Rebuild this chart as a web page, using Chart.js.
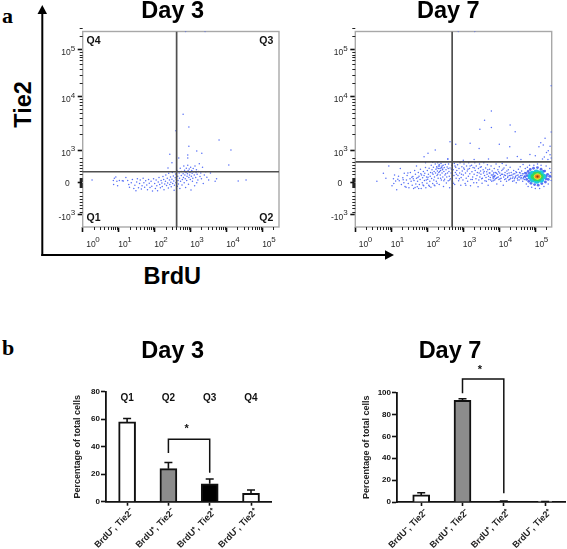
<!DOCTYPE html>
<html><head><meta charset="utf-8">
<script src="https://cdn.jsdelivr.net/npm/chart.js@4"></script>
<style>
html,body{margin:0;padding:0;background:#fff;overflow:hidden;width:567px;height:549px}
canvas{position:absolute;display:block}
svg{position:absolute;left:0;top:0}
</style></head><body>
<svg width="567" height="549" id="ov">
 <line x1="42.3" y1="256" x2="42.3" y2="12" stroke="#000" stroke-width="2"/>
 <polygon points="42.3,5 37.5,14 47,14" fill="#000"/>
 <line x1="41.3" y1="255" x2="387" y2="255" stroke="#000" stroke-width="2"/>
 <polygon points="394,255 385,250.3 385,259.7" fill="#000"/>
 <text x="2" y="23" font-family="Liberation Serif" font-weight="bold" font-size="22">a</text>
 <text x="2" y="355" font-family="Liberation Serif" font-weight="bold" font-size="22">b</text>
 <text transform="translate(30.5,104.5) rotate(-90)" text-anchor="middle" font-family="Liberation Sans" font-weight="bold" font-size="23.5">Tie2</text>
 <text x="172.3" y="283.5" text-anchor="middle" font-family="Liberation Sans" font-weight="bold" font-size="23.5">BrdU</text>
</svg>
<canvas id="c1" style="left:55px;top:0" width="235" height="262"></canvas>
<canvas id="c2" style="left:328px;top:0" width="241" height="262"></canvas>
<canvas id="c3" style="left:50px;top:338px" width="245" height="211"></canvas>
<canvas id="c4" style="left:334px;top:338px" width="232" height="211"></canvas>
<script>
// Flow plots: x = decades of BrdU, y = display position on the biexponential Tie2 axis
const xTickExponents = ['0','1','2','3','4','5'];
const xTickValues = [0,1,2,3,4,5];
const yTickValues = [-1,0,1,2.66,4.125];
const yTickLabels = ['-10|3','0','10|3','10|4','10|5'];
const yMinorBiex = [.75,.625,.53,.44,.34,.25,.125,.09,.06,.03,-.03,-.06,-.09,-.125,-.15,-.31,-.44,-.53,-.625,-.72,-.81,-.94];
const day3Gate = {x:2.61, y:.32};
const day7Gate = {x:2.69, y:.63};
const quadrantNames = ['Q1','Q2','Q3','Q4'];

const day3Cells = [
[.26,.06],[.85,.05],[.86,-.08],[.88,.12],[.92,.16],[.95,.02],[.97,-.12],[1.02,.05],[1.1,.04],[1.13,.03],
[1.2,.14],[1.25,.05],[1.28,-.08],[1.3,-.16],[1.35,-.02],[1.38,.08],[1.42,-.2],[1.45,-.1],[1.48,-.27],[1.5,.0],
[1.52,.1],[1.55,-.18],[1.58,-.05],[1.6,.06],[1.63,-.22],[1.65,-.12],[1.68,.12],[1.7,-.02],[1.72,-.16],[1.75,.04],
[1.78,-.09],[1.8,-.24],[1.83,.08],[1.85,-.04],[1.87,-.17],[1.9,.02],[1.92,-.13],[1.94,-.28],[1.97,.1],[2.0,-.05],
[2.02,-.2],[2.04,.06],[2.06,-.12],[2.08,-.27],[2.1,.0],[2.12,.14],[2.14,-.08],[2.16,-.18],[2.18,.05],[2.2,-.03],
[2.21,-.14],[2.23,.17],[2.25,.08],[2.26,-.24],[2.28,-.06],[2.3,.02],[2.31,.22],[2.33,-.11],[2.35,.12],[2.36,-.03],
[2.38,-.19],[2.39,.27],[2.41,.06],[2.42,-.08],[2.44,.16],[2.45,-.01],[2.46,-.15],[2.48,.09],[2.49,.3],[2.5,-.05],
[2.52,.19],[2.53,.03],[2.54,-.26],[2.55,-.1],[2.57,.13],[2.58,.25],[2.59,-.02],[2.6,.08],[2.62,.36],[2.63,-.13],
[2.64,.18],[2.65,.05],[2.66,-.06],[2.68,.28],[2.69,.12],[2.7,-.2],[2.71,.43],[2.72,.02],[2.74,.2],[2.75,.33],
[2.76,-.09],[2.77,.08],[2.79,.26],[2.8,.14],[2.81,.5],[2.82,-.02],[2.83,.37],[2.84,.22],[2.85,.1],[2.86,-.17],
[2.87,.3],[2.88,.43],[2.89,.05],[2.9,.18],[2.91,.26],[2.92,.52],[2.93,.35],[2.94,-.07],[2.95,.14],[2.96,.41],
[2.97,.22],[2.98,.3],[2.99,.08],[3.0,.46],[3.01,-.25],[3.02,.18],[3.03,.36],[3.04,.27],[3.05,.02],[3.06,.12],
[3.07,.42],[3.08,.32],[3.1,.22],[3.11,-.12],[3.12,.5],[3.14,.14],[3.15,.3],[3.16,.38],[3.17,-.02],[3.18,.24],
[3.2,.06],[3.22,.33],[3.24,.57],[3.26,.17],[3.28,.28],[3.3,.1],[3.33,.46],[3.35,-.05],[3.38,.22],[3.42,.32],
[3.45,.15],[3.5,.06],[3.55,.28],[3.68,.02],[3.72,.1],
[2.42,.87],[2.48,.6],[2.37,.44],[2.67,.75],[2.79,2.12],[2.59,1.6],[2.95,1.72],[3.79,1.31],[4.12,1.0],[4.06,.53],
[4.32,.03],[4.54,.06],[2.95,1.12],[2.92,.84],[3.17,.97],[3.31,.9],[2.92,.75],[2.86,4.7],[3.4,4.7]
];

const day7Cells = [
[.6,.02],[.78,.27],[.93,.5],[.85,.12],[1.02,-.12],[1.06,.1],[1.12,.03],[1.15,-.24],[1.2,.18],[1.22,.04],
[1.28,-.08],[1.32,.13],[1.35,-.02],[1.36,.27],[1.38,-.14],[1.42,.06],[1.44,.2],[1.47,-.05],[1.49,-.18],[1.52,.1],
[1.53,.3],[1.55,.02],[1.58,-.1],[1.6,.17],[1.62,-.2],[1.63,.05],[1.65,.36],[1.67,.24],[1.68,-.06],[1.7,.12],
[1.72,-.15],[1.73,.02],[1.75,.3],[1.77,.18],[1.78,-.08],[1.8,.08],[1.81,.4],[1.83,-.2],[1.84,.22],[1.86,-.02],
[1.87,.13],[1.89,.33],[1.9,-.12],[1.92,.05],[1.93,.27],[1.95,.45],[1.96,-.18],[1.98,.16],[1.99,-.04],[2.0,.36],
[2.01,.09],[2.03,.24],[2.04,-.1],[2.05,.43],[2.07,.02],[2.08,.18],[2.09,.3],[2.1,-.16],[2.11,.52],[2.12,.11],
[2.13,.38],[2.15,-.05],[2.16,.24],[2.17,.46],[2.18,.06],[2.19,.33],[2.2,.16],[2.21,-.12],[2.22,.56],[2.23,.28],
[2.24,.4],[2.25,.02],[2.26,.48],[2.27,.2],[2.28,.34],[2.29,.6],[2.3,.12],[2.31,.42],[2.32,.3],[2.33,-.08],
[2.34,.5],[2.35,.42],[2.36,.22],[2.37,.36],[2.38,.58],[2.39,.06],[2.4,.46],[2.41,.28],[2.42,.38],[2.43,.16],
[2.44,.52],[2.45,-.14],[2.46,.33],[2.47,.45],[2.48,.09],[2.49,.22],[2.5,.55],[2.52,.38],[2.53,-.03],[2.54,.16],
[2.55,.47],[2.56,.28],[2.57,.72],[2.58,.04],[2.59,.56],[2.6,.33],[2.61,.18],[2.62,-.18],[2.63,.44],[2.64,.1],
[2.66,.28],[2.68,.52],[2.7,.02],[2.72,.38],[2.74,.2],[2.75,.58],[2.76,-.08],[2.78,.3],[2.79,.46],[2.8,.12],
[2.82,.36],[2.84,.54],[2.85,.2],[2.87,.04],[2.88,.42],[2.9,.28],[2.91,.6],[2.93,-.1],[2.94,.14],[2.96,.48],
[2.97,.34],[2.99,.06],[3.0,.22],[3.02,.56],[3.03,.4],[3.05,-.05],[3.06,.28],[3.08,.12],[3.09,.5],[3.11,.34],
[3.12,.02],[3.14,.18],[3.15,.6],[3.17,.42],[3.18,.26],[3.2,-.12],[3.21,.08],[3.23,.52],[3.24,.32],[3.26,.16],
[3.27,.45],[3.29,-.02],[3.3,.24],[3.32,.6],[3.33,.36],[3.35,.1],[3.36,.5],[3.38,.2],[3.39,.3],[3.41,-.15],
[3.42,.42],[3.43,.06],[3.45,.56],[3.46,.16],[3.48,.34],[3.49,.24],[3.5,.48],[3.52,-.04],[3.53,.12],[3.55,.38],
[3.56,.28],[3.57,.6],[3.59,.2],[3.6,.04],[3.62,.44],[3.63,.14],[3.65,.32],[3.66,.24],[3.67,.54],[3.69,-.1],
[3.7,.18],[3.71,.08],[3.73,.4],[3.74,.28],[3.75,.14],[3.77,.5],[3.78,.22],[3.79,.02],[3.8,.34],[3.82,.16],
[3.83,.1],[3.84,.25],[3.85,.15],[3.86,.42],[3.87,.06],[3.88,.2],[3.9,.3],[3.91,.56],[3.92,.12],[3.93,-.06],
[3.95,.24],[3.96,.38],[3.97,.16],[3.99,.08],[4.0,.48],[4.01,.28],[4.03,.2],[4.04,.02],[4.05,.12],[4.07,.36],
[4.08,.58],[4.09,.24],[4.11,-.1],[4.12,.16],[4.13,.44],[4.15,.08],[4.16,.3],[4.17,.2],[4.19,.52],[4.2,.02],
[4.22,.26],[4.23,.14],[4.25,.38],[4.26,.06],[4.28,.2],[4.3,.46],[4.31,.12],[4.33,.3],[4.35,.22],[4.37,.02],
[4.38,.16],[4.4,.36],[4.42,.1],[4.43,.26],[4.45,.18],[4.47,-.02],[4.48,.3],[4.5,.12],[4.52,.22],[4.53,.4],
[4.55,.06],[4.57,.16],[4.58,.28],[4.6,.1],[4.62,.34],[4.63,.2],[4.65,.02],[4.67,.14],[4.68,.26],[4.7,.08],
[3.78,2.22],[3.59,1.93],[3.46,1.65],[3.78,1.7],[4.3,1.78],[4.44,1.57],[5.44,3.01],[5.44,1.56],[5.27,1.37],[5.15,1.23],
[5.22,1.16],[4.0,1.18],[4.29,1.1],[3.44,1.05],[3.19,1.21],[2.79,1.18],[2.63,1.26],[2.22,1.0],[2.02,.9],[1.91,.79],
[2.57,.72],[2.86,4.7],[3.32,4.7],[5.1,1.1],[5.31,.92],[5.36,.98],[5.41,.85],[5.44,.75],[5.25,.78],[5.0,.82],
[4.85,.86],[4.6,.7],[4.5,.8],[4.22,.75],[3.7,.72],[3.3,.7],[3.0,.68],[5.2,.72],[5.35,.7],[5.41,1.12],
[1.95,.6],[2.15,.62],[1.7,.5],[1.25,.42]
];
const day7MoreCells = [
[1.07,-.05],[1.18,.09],[1.09,.22],[1.41,-.16],[1.33,.07],[1.57,.15],[1.46,.28],[1.66,-.17],[1.61,.1],[1.76,-.2],
[1.74,.14],[1.88,-.09],[1.82,.26],[1.97,.06],[2.06,-.13],[1.91,.2],[2.14,.28],[2.02,.15],[2.27,-.04],[2.19,-.09],
[2.33,.55],[2.29,.24],[2.41,.5],[2.37,.12],[2.46,.04],[2.34,.33],[2.38,.44],[2.31,.5],[2.43,.41],[2.27,.44],
[2.51,.26],[2.58,.42],[2.62,.06],[2.67,.4],[2.73,-.04],[2.77,.5],[2.81,.24],[2.89,.1],[2.95,.24],[3.01,.44],
[3.07,-.1],[3.13,.4],[3.19,.5],[3.25,.08],[3.31,.44],[3.37,-.02],[3.44,.28],[3.47,.46],[3.51,.1],[3.58,.33],
[3.64,.02],[3.68,.38],[3.72,.28],[3.76,.06],[3.81,.22],[3.83,.04],[3.85,.3],[3.87,.18],[3.89,.1],[3.84,.18],
[3.92,.27],[3.94,.14],[3.98,.32],[4.02,.1],[4.06,.24],[4.1,.4],[4.14,.22],[4.18,.1],[4.21,.34],[4.24,.18],
[4.27,.28],[4.29,.08],[4.32,.2],[4.36,.12],[4.39,.25],[4.41,.04],[4.44,.14],[4.46,.32],[4.49,.2],[4.51,.06],
[4.54,.16],[4.56,.3],[4.59,.2],[4.61,.14],[4.64,.26],[4.66,.1],[4.69,.18],[4.71,.3],[4.58,.48],[4.66,.55],
[4.72,.42],[4.75,-.06],[4.78,.46],[4.8,-.14],[4.84,.52],[4.9,-.16],[4.96,.52],[5.0,-.2],[5.06,.56],[5.12,-.2],
[5.16,.52],[5.24,-.14],[5.3,.5],[5.36,-.06],[5.4,.42],[5.43,.3],[5.44,.16],[5.44,.05]
];
const day7CoreBlue = [[4.72,.17],[4.74,.27],[4.76,.08],[4.8,.33],[4.82,.02],[4.86,.39],[4.88,-.04],[4.95,.43],[4.98,-.08],[5.06,.45],[5.08,-.1],[5.16,.4],[5.18,-.05],[5.26,.34],[5.28,.0],[5.34,.24],[5.36,.08],[5.4,.18],[4.78,.2],[4.84,.12],[4.84,.27],[5.3,.18],[5.3,.1],[5.22,.33]];
const day7CoreCyan = [[4.87,.17],[4.92,.26],[4.93,.08],[5.03,.3],[5.04,.04],[5.15,.27],[5.16,.07],[5.22,.17]];
const day7CoreGreen = [[4.95,.17],[5.0,.23],[5.01,.11],[5.09,.24],[5.09,.1],[5.15,.17]];
const day7CoreYellow = [[5.02,.17],[5.06,.2],[5.06,.14],[5.1,.17]];
const day7CoreOrange = [[5.04,.17],[5.08,.17]];
const day7CoreRed = [[5.06,.17]];

// Bar charts
const barLabels = ['BrdU⁻, Tie2⁻','BrdU⁺, Tie2⁻','BrdU⁺, Tie2⁺','BrdU⁻, Tie2⁺'];
const barPositions = [0,1,2,3];
const day3Percent = [58,24,13,6];
const day3Upper = [60.5,28.5,16.5,8.5];
const day7Percent = [6.5,93,.5,.3];
const day7Upper = [8.5,94.5,.8,.5];
const barFills = ['#ffffff','#8c8c8c','#000000','#ffffff'];
const day3Ticks = [0,20,40,60,80];
const day7Ticks = [0,20,40,60,80,100];
const day3Bracket = [[1,35.4],[1,45.4],[2,45.4],[2,21]];
const day7Bracket = [[1,99.5],[1,112.5],[2,112.5],[2,8]];

const SANS = '"Liberation Sans", Arial, sans-serif';
const logs = [2,3,4,5,6,7,8,9].map(k=>Math.log10(k));

const titleNudge = {
  id:'titleNudge',
  afterLayout(ch,args,o){ if(ch.titleBlock){ch.titleBlock.left+=o.dx;ch.titleBlock.right+=o.dx;} }
};

const flowDecor = {
  id:'flowDecor',
  beforeDatasetsDraw(ch){
    const a=ch.chartArea,c=ch.ctx,xs=ch.scales.x,ys=ch.scales.y;
    c.save();
    c.strokeStyle='#a8a8a8';c.lineWidth=1.4;
    c.strokeRect(a.left,a.top,a.right-a.left,a.bottom-a.top);
    c.strokeStyle='#222';c.lineWidth=1;
    c.beginPath();
    for(let d=0;d<6;d++)for(const l of logs){const v=d+l;if(v>5.42)continue;
      const p=Math.round(xs.getPixelForValue(v))+.5;c.moveTo(p,a.bottom);c.lineTo(p,a.bottom+3);}
    const ymins=[...yMinorBiex];
    for(const l of logs){ymins.push(1+1.66*l);ymins.push(2.66+1.465*l);if(l<.48)ymins.push(4.125+1.465*l);}
    for(const v of ymins){const p=Math.round(ys.getPixelForValue(v))+.5;c.moveTo(a.left,p);c.lineTo(a.left-3,p);}
    c.stroke();
    c.restore();
  },
  afterDraw(ch,args,o){
    const c=ch.ctx,xs=ch.scales.x,ys=ch.scales.y,a=ch.chartArea;
    c.save();c.fillStyle='#2a2a2a';c.textBaseline='alphabetic';
    // decade labels: base and raised exponent
    const base='8.5px '+SANS, sup='8px '+SANS;
    xTickValues.forEach((v,i)=>{
      const x=xs.getPixelForValue(v)+(i===0?3.5:-.5),y=a.bottom+19.5;
      c.textAlign='left';c.font=base;c.fillText('10',x,y);
      c.font=sup;c.fillText(xTickExponents[i],x+9,y-4.5);
    });
    yTickValues.forEach((v,i)=>{
      const y=ys.getPixelForValue(v)+5.5,[b,e]=yTickLabels[i].split('|');
      c.textAlign='right';
      if(e===undefined){c.font=base;c.fillText(b,a.left-13,y-2);return;}
      c.font=sup;c.fillText(e,a.left-7.5,y-4.5);
      c.font=base;c.fillText(b,a.left-12,y);
    });
    if(o.quadrants){
      c.font='bold 10.5px '+SANS;c.fillStyle='#111';c.textAlign='center';c.textBaseline='middle';
      for(const q of o.quadrants){c.fillText(q[0],xs.getPixelForValue(q[1]),ys.getPixelForValue(q[2]));}
    }
    c.restore();
  }
};

const barDecor = {
  id:'barDecor',
  afterDatasetsDraw(ch,args,o){
    const c=ch.ctx,xs=ch.scales.x,ys=ch.scales.y;
    c.save();c.strokeStyle='#111';c.lineWidth=1.6;
    // upper error bars
    o.upper.forEach((u,i)=>{
      const x=xs.getPixelForValue(barPositions[i]),y0=ys.getPixelForValue(o.values[i]),y1=ys.getPixelForValue(u);
      c.beginPath();c.moveTo(x,y0);c.lineTo(x,y1);c.moveTo(x-4,y1);c.lineTo(x+4,y1);c.stroke();
    });
    // significance bracket
    c.lineWidth=1.5;c.beginPath();
    o.bracket.forEach((p,i)=>{const X=xs.getPixelForValue(p[0]),Y=ys.getPixelForValue(p[1]);i?c.lineTo(X,Y):c.moveTo(X,Y);});
    c.stroke();
    c.fillStyle='#111';c.textAlign='center';c.textBaseline='middle';
    c.font='bold 11px '+SANS;
    c.fillText('*',xs.getPixelForValue(o.star[0]),ys.getPixelForValue(o.star[1]));
    if(o.q){c.font='bold 10px '+SANS;
      o.q.forEach((t,i)=>c.fillText(t,xs.getPixelForValue(barPositions[i]),ys.getPixelForValue(o.qY)));}
    c.restore();
  }
};

function cloud(cells,color,r,order){
  return {type:'scatter',data:cells.map(p=>({x:p[0],y:p[1]})),backgroundColor:color,borderWidth:0,pointRadius:r,pointHoverRadius:r,order};
}
function gate(g,xmax,order){
  return [
    {type:'line',data:[{x:g.x,y:-1.406},{x:g.x,y:4.703}],borderColor:'#505050',borderWidth:1.7,pointRadius:0,order},
    {type:'line',data:[{x:0,y:g.y},{x:xmax,y:g.y}],borderColor:'#505050',borderWidth:1.7,pointRadius:0,order}
  ];
}
function flowChart(id,title,yw,padR,dx,datasets,quadrants){
  return new Chart(document.getElementById(id),{
    type:'scatter',
    data:{datasets},
    plugins:[flowDecor,titleNudge],
    options:{
      responsive:false,animation:false,events:[],
      layout:{padding:{left:0,right:padR,top:0,bottom:0}},
      plugins:{
        legend:{display:false},tooltip:{enabled:false},
        title:{display:true,text:title,color:'#000',font:{family:SANS,size:23.5,weight:'bold',lineHeight:1},padding:{top:0,bottom:8}},
        flowDecor:{quadrants},titleNudge:{dx}
      },
      scales:{
        x:{type:'linear',min:0,max:5.455,
          afterBuildTicks(s){s.ticks=xTickValues.map(v=>({value:v}));},
          afterFit(s){s.height=35;},
          border:{display:false},
          grid:{drawOnChartArea:false,drawTicks:true,tickLength:5,tickColor:'#111',tickWidth:1.6},
          ticks:{display:false,autoSkip:false,maxRotation:0,minRotation:0}
        },
        y:{type:'linear',min:-1.406,max:4.703,
          afterBuildTicks(s){s.ticks=yTickValues.map(v=>({value:v}));},
          afterFit(s){s.width=yw;},
          border:{display:false},
          grid:{drawOnChartArea:false,drawTicks:true,tickLength:5,tickColor:'#111',tickWidth:1.6},
          ticks:{display:false,autoSkip:false}
        }
      }
    }
  });
}
function barChart(id,title,padL,yw,padR,xh,pad,dx,xmin,xmax,ymax,values,upper,yTicks,bracket,star,q){
  return new Chart(document.getElementById(id),{
    type:'bar',
    data:{datasets:[{data:values.map((v,i)=>({x:barPositions[i],y:v})),backgroundColor:barFills,borderColor:'#111',borderWidth:2,barThickness:17}]},
    plugins:[barDecor,titleNudge],
    options:{
      responsive:false,animation:false,events:[],
      layout:{padding:{left:padL,right:padR,top:0,bottom:0}},
      plugins:{
        legend:{display:false},tooltip:{enabled:false},
        title:{display:true,text:title,color:'#000',font:{family:SANS,size:23.5,weight:'bold',lineHeight:1},padding:{top:1.5,bottom:pad-1.5}},
        barDecor:{values,upper,bracket,star,q,qY:75.2},titleNudge:{dx}
      },
      scales:{
        x:{type:'linear',offset:false,min:xmin,max:xmax,
          afterBuildTicks(s){s.ticks=barPositions.map(v=>({value:v}));},
          afterFit(s){s.height=xh;},
          border:{display:true,color:'#111',width:1.8},
          grid:{offset:false,drawOnChartArea:false,drawTicks:true,tickLength:4,tickColor:'#111',tickWidth:1.6},
          ticks:{autoSkip:false,minRotation:45,maxRotation:45,padding:1,labelOffset:5,color:'#222',font:{family:SANS,size:9,weight:'bold'},
            callback:v=>barLabels[barPositions.indexOf(v)]}
        },
        y:{type:'linear',min:0,max:ymax,
          afterBuildTicks(s){s.ticks=yTicks.map(v=>({value:v}));},
          afterFit(s){s.width=yw;},
          border:{display:true,color:'#111',width:1.8},
          title:{display:true,text:'Percentage of total cells',color:'#222',font:{family:SANS,size:9,weight:'bold'},padding:{top:0,bottom:0}},
          grid:{drawOnChartArea:false,drawTicks:true,tickLength:5,tickColor:'#111',tickWidth:1.6},
          ticks:{autoSkip:false,padding:1,color:'#111',font:{family:SANS,size:8,weight:'bold'}}
        }
      }
    }
  });
}
const BLUE='rgba(55,85,245,.85)';
flowChart('c1','Day 3',27.7,11,5.7,[...gate(day3Gate,5.455,0),cloud(day3Cells,BLUE,.75,5)],
  [['Q4',.3,4.4],['Q3',5.1,4.4],['Q1',.3,-1.13],['Q2',5.1,-1.13]]);
flowChart('c2','Day 7',27.3,17.3,8.45,[
  ...gate(day7Gate,5.455,0),
  cloud(day7CoreRed,'#9a3510',1.1,1),cloud(day7CoreOrange,'#e8891f',2,2),cloud(day7CoreYellow,'#e6e030',2.4,3),
  cloud(day7CoreGreen,'#30d860',2.8,4),cloud(day7CoreCyan,'#1fc4e0',3,5),cloud(day7CoreBlue,'rgba(50,75,240,.8)',1.4,6),
  cloud(day7MoreCells,BLUE,.75,7),cloud(day7Cells,BLUE,.75,8)
],null);
barChart('c3','Day 3',22,34,23.3,47.3,30.2,.85,-.511,3.501,80,day3Percent,day3Upper,day3Ticks,day3Bracket,[1.44,53],quadrantNames);
barChart('c4','Day 7',27.5,35.5,0,47,31.2,-13.75,-.586,3.506,100,day7Percent,day7Upper,day7Ticks,day7Bracket,[1.42,121],null);
</script>
</body></html>
